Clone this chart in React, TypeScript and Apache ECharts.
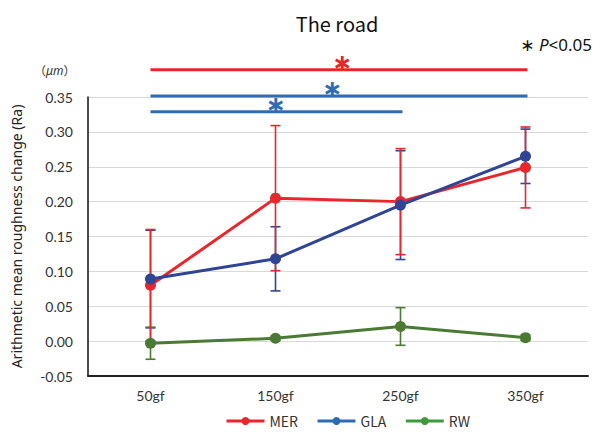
import React, { useEffect, useRef } from "react";
import * as echarts from "echarts";

const categories = ["50gf", "150gf", "250gf", "350gf"];
const merMean = [0.08, 0.205, 0.2, 0.249];
const merSd = [0.08, 0.104, 0.076, 0.058];
const glaMean = [0.089, 0.118, 0.195, 0.265];
const glaSd = [0.07, 0.046, 0.078, 0.039];
const rwMean = [-0.003, 0.004, 0.021, 0.005];
const rwSd = [0.023, 0.003, 0.027, 0.004];
const yTicks = [-0.05, 0.0, 0.05, 0.1, 0.15, 0.2, 0.25, 0.3, 0.35];

// significance brackets (category index from/to, level in data units)
const sigFrom = [0, 0, 0];
const sigTo = [3, 3, 2];
const sigLevel = [0.389, 0.3515, 0.329];

const RED = "#e8262b";
const NAVY = "#2f4593";
const DKGREEN = "#4b7a35";
const SIGBLUE = "#2e6db4";
const sigColors = [RED, SIGBLUE, SIGBLUE];
const starShift = [4, -6, 0];

function errSeries(name: string, mean: number[], sd: number[], color: string) {
  return {
    type: "custom",
    name: name + "_err",
    z: 1,
    data: categories.map((_, i) => [i, mean[i], sd[i]]),
    encode: { x: 0, y: 1 },
    renderItem: (params: any, api: any) => {
      const x = api.value(0);
      const m = api.value(1);
      const s = api.value(2);
      const top = api.coord([x, m + s]);
      const bot = api.coord([x, m - s]);
      const w = 5;
      const st = { stroke: color, lineWidth: 1.6 };
      return {
        type: "group",
        children: [
          { type: "line", shape: { x1: top[0], y1: top[1], x2: bot[0], y2: bot[1] }, style: st },
          { type: "line", shape: { x1: top[0] - w, y1: top[1], x2: top[0] + w, y2: top[1] }, style: st },
          { type: "line", shape: { x1: bot[0] - w, y1: bot[1], x2: bot[0] + w, y2: bot[1] }, style: st },
        ],
      };
    },
  };
}

function lineSeries(name: string, mean: number[], color: string) {
  return {
    type: "line",
    name,
    z: 3,
    data: mean,
    symbol: "circle",
    symbolSize: 11,
    lineStyle: { color, width: 3 },
    itemStyle: { color },
  };
}

export default function App() {
  const ref = useRef<HTMLDivElement>(null);
  useEffect(() => {
    if (!ref.current) return;
    const chart = echarts.init(ref.current, undefined, { renderer: "svg" });
    chart.setOption({
      animation: false,
      backgroundColor: "#ffffff",
      title: {
        text: "The road",
        left: 332,
        textAlign: "center",
        top: 8,
        textStyle: { fontFamily: "Noto Sans CJK JP", fontSize: 20, fontWeight: "normal", color: "#111" },
      },
      grid: { left: 88, right: 12, top: 97, bottom: 61 },
      xAxis: {
        type: "category",
        data: categories,
        boundaryGap: true,
        axisLine: { onZero: false, lineStyle: { color: "#222", width: 2 } },
        axisTick: { show: false },
        axisLabel: { margin: 12, fontFamily: "Lato", fontSize: 14, color: "#333" },
        splitLine: { show: false },
      },
      yAxis: {
        type: "value",
        min: -0.05,
        max: 0.35,
        interval: 0.05,
        name: "Arithmetic mean roughness change (Ra)",
        nameLocation: "middle",
        nameGap: 65,
        nameTextStyle: { fontFamily: "Noto Sans", fontSize: 14, color: "#222" },
        axisLine: { show: true, onZero: false, lineStyle: { color: "#111", width: 1.5 } },
        axisTick: { show: false },
        axisLabel: {
          margin: 15,
          fontFamily: "Lato",
          fontSize: 14,
          color: "#333",
          formatter: (v: number) => {
            const t = yTicks.find((k) => Math.abs(k - v) < 1e-9);
            return (t === undefined ? v : t).toFixed(2);
          },
        },
        splitLine: { lineStyle: { color: "#d9d9d9", width: 1 } },
      },
      legend: {
        bottom: 4,
        left: 220,
        orient: "horizontal",
        itemWidth: 38,
        itemHeight: 10,
        itemGap: 18,
        textStyle: { fontFamily: "Noto Sans CJK JP", fontSize: 14, color: "#333" },
        data: [
          { name: "MER", itemStyle: { color: RED }, lineStyle: { color: RED, width: 3 } },
          { name: "GLA", itemStyle: { color: SIGBLUE }, lineStyle: { color: SIGBLUE, width: 3 } },
          { name: "RW", itemStyle: { color: "#3e9a3a" }, lineStyle: { color: "#3e9a3a", width: 3 } },
        ],
      },
      series: [
        errSeries("GLA", glaMean, glaSd, NAVY),
        errSeries("RW", rwMean, rwSd, DKGREEN),
        errSeries("MER", merMean, merSd, RED),
        lineSeries("MER", merMean, RED),
        lineSeries("GLA", glaMean, NAVY),
        lineSeries("RW", rwMean, DKGREEN),
      ],
    });

    const graphics: any[] = [];
    sigLevel.forEach((lv, i) => {
      const a = chart.convertToPixel({ gridIndex: 0 }, [sigFrom[i], lv]) as number[];
      const b = chart.convertToPixel({ gridIndex: 0 }, [sigTo[i], lv]) as number[];
      graphics.push({
        type: "line",
        shape: { x1: a[0], y1: a[1], x2: b[0] + 2, y2: b[1] },
        style: { stroke: sigColors[i], lineWidth: 3 },
        z: 10,
      });
      graphics.push({
        type: "text",
        x: (a[0] + b[0]) / 2 + starShift[i],
        y: a[1] - 7,
        style: {
          text: "∗",
          fill: sigColors[i],
          fontSize: 24,
          fontFamily: "DejaVu Sans",
          fontWeight: "bold",
          align: "center",
          verticalAlign: "middle",
        },
        z: 10,
      });
    });
    graphics.push({
      type: "text",
      right: 8,
      top: 36,
      style: {
        rich: {
          a: { fontSize: 17, fontFamily: "DejaVu Sans", fill: "#111" },
          p: { fontSize: 17, fontFamily: "Noto Sans", fontStyle: "italic", fill: "#111" },
          n: { fontSize: 17, fontFamily: "Noto Sans", fill: "#111" },
        },
        text: "{a|∗}{p| P}{n|<0.05}",
      },
    });
    graphics.push({
      type: "text",
      left: 34,
      top: 64,
      style: {
        rich: {
          n: { fontSize: 12, fontFamily: "Noto Sans CJK JP", fill: "#333" },
          u: { fontSize: 12, fontFamily: "Noto Sans", fontStyle: "italic", fill: "#333" },
        },
        text: "{n|（}{u|μm}{n|）}",
      },
    });
    chart.setOption({ graphic: graphics });

    return () => chart.dispose();
  }, []);
  return (
    <div
      ref={ref}
      style={{ position: "fixed", left: 0, top: 0, width: 600, height: 437 }}
    />
  );
}
